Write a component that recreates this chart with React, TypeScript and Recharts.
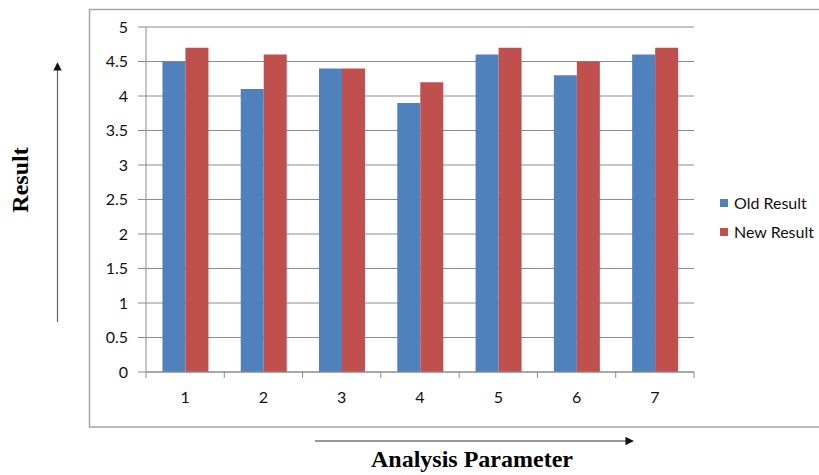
import { Bar, BarChart, CartesianGrid, Legend, XAxis, YAxis } from "recharts";

const CATEGORIES = ["1", "2", "3", "4", "5", "6", "7"];
const OLD_RESULT = [4.5, 4.1, 4.4, 3.9, 4.6, 4.3, 4.6];
const NEW_RESULT = [4.7, 4.6, 4.4, 4.2, 4.7, 4.5, 4.7];
const Y_TICKS = [0, 0.5, 1, 1.5, 2, 2.5, 3, 3.5, 4, 4.5, 5];

const OLD_COLOR = "#4F81BD";
const NEW_COLOR = "#C0504D";
const GRID_COLOR = "#8c8c8c";
const TICK_FONT = "Lato, 'Open Sans', sans-serif";
const TITLE_FONT = "'Liberation Serif', 'Times New Roman', serif";

const X_TICK_SIZE = 6;
const X_TICK_MARGIN = 14;

const data = CATEGORIES.map((c, i) => ({
  cat: c,
  old: OLD_RESULT[i],
  new: NEW_RESULT[i],
}));

// Excel puts the x tick marks between categories, not under them
function XTick(props: any) {
  const { x, y, payload, index, visibleTicksCount } = props;
  const axisY = y - X_TICK_SIZE - X_TICK_MARGIN;
  const half = payload?.offset ?? 39;
  const isLast = index === visibleTicksCount - 1;
  return (
    <g>
      <line x1={x - half} x2={x - half} y1={axisY} y2={axisY + X_TICK_SIZE} stroke={GRID_COLOR} />
      {isLast && (
        <line x1={x + half} x2={x + half} y1={axisY} y2={axisY + X_TICK_SIZE} stroke={GRID_COLOR} />
      )}
      <text x={x} y={y} dy="0.71em" textAnchor="middle" fontSize={16} fontFamily={TICK_FONT} fill="#111">
        {payload.value}
      </text>
    </g>
  );
}

function LegendBox() {
  const items = [
    { label: "Old Result", color: OLD_COLOR },
    { label: "New Result", color: NEW_COLOR },
  ];
  return (
    <div style={{ fontFamily: TICK_FONT, fontSize: 16, color: "#111" }}>
      {items.map((it) => (
        <div key={it.label} style={{ display: "flex", alignItems: "center", height: 29 }}>
          <span style={{ width: 8, height: 8, background: it.color, marginRight: 6, display: "inline-block" }} />
          <span>{it.label}</span>
        </div>
      ))}
    </div>
  );
}

export default function App() {
  return (
    <div style={{ position: "absolute", left: 0, top: 0, width: 819, height: 475, background: "#fff" }}>
      <svg width={819} height={475} style={{ position: "absolute", left: 0, top: 0 }}>
        <rect x={89.5} y={9.5} width={740} height={417.5} fill="none" stroke="#a6a6a6" strokeWidth={1.5} />
        <defs>
          <marker id="arrow" viewBox="0 0 10 10" refX="9" refY="5" markerWidth="7" markerHeight="7" orient="auto">
            <path d="M0,0 L10,5 L0,10 z" fill="#111" />
          </marker>
        </defs>
        <line x1={57.5} y1={322} x2={57.5} y2={63} stroke="#666" strokeWidth={1.2} markerEnd="url(#arrow)" />
        <line x1={315} y1={441} x2={633} y2={441} stroke="#333" strokeWidth={1.2} markerEnd="url(#arrow)" />
        <text
          x={0}
          y={0}
          transform="translate(28,180) rotate(-90)"
          textAnchor="middle"
          fontFamily={TITLE_FONT}
          fontWeight="bold"
          fontSize={24}
          fill="#000"
        >
          Result
        </text>
        <text x={472} y={467} textAnchor="middle" fontFamily={TITLE_FONT} fontWeight="bold" fontSize={24} fill="#000">
          Analysis Parameter
        </text>
      </svg>
      <div style={{ position: "absolute", left: 0, top: 0 }}>
        <BarChart
          width={819}
          height={475}
          data={data}
          margin={{ top: 27, right: 125, left: 0, bottom: 73 }}
          barCategoryGap="21%"
          barGap={0}
        >
          <CartesianGrid vertical={false} stroke={GRID_COLOR} />
          <XAxis
            dataKey="cat"
            height={30}
            axisLine={{ stroke: GRID_COLOR }}
            tickLine={false}
            tickSize={X_TICK_SIZE}
            tickMargin={X_TICK_MARGIN}
            tick={<XTick />}
            interval={0}
          />
          <YAxis
            width={146}
            domain={[0, 5]}
            ticks={Y_TICKS}
            interval={0}
            axisLine={{ stroke: GRID_COLOR }}
            tickLine={{ stroke: GRID_COLOR }}
            tickSize={8}
            tickMargin={10}
            tick={{ fontSize: 16, fontFamily: TICK_FONT, fill: "#111" }}
          />
          <Legend
            layout="vertical"
            align="center"
            verticalAlign="middle"
            content={<LegendBox />}
            wrapperStyle={{ left: 720, top: 188, width: 99 }}
          />
          <Bar dataKey="old" name="Old Result" fill={OLD_COLOR} isAnimationActive={false} />
          <Bar dataKey="new" name="New Result" fill={NEW_COLOR} isAnimationActive={false} />
        </BarChart>
      </div>
    </div>
  );
}
